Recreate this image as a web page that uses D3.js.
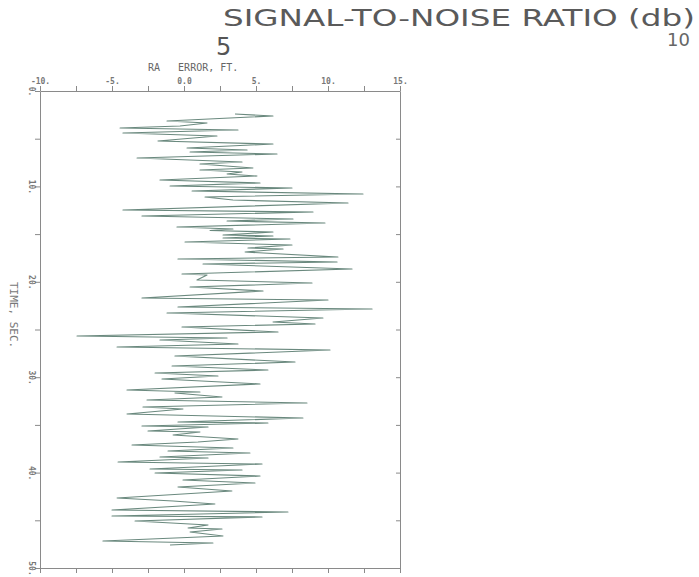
<!DOCTYPE html>
<html>
<head>
<meta charset="utf-8">
<script src="https://cdn.jsdelivr.net/npm/d3@7"></script>
<style>
	body { margin: 0; background: #fff; }
	svg text { font-family: 'DejaVu Sans Mono', monospace; fill: #666; }
	.axis path, .axis line { stroke: #8a8a8a; }
</style>
</head>
<body>
<svg id="main-plot"></svg>
<script>
// time (sec) at each turning point of the trace
var timeSec = [2.41, 2.62, 3.14, 3.35, 3.67, 3.88, 4.09, 4.40, 4.72, 5.24,
	5.56, 5.97, 6.18, 6.39, 6.60, 7.02, 7.44, 7.65, 8.07, 8.28,
	8.49, 8.70, 8.91, 9.33, 9.64, 9.96, 10.17, 10.48, 10.80, 11.11,
	11.43, 11.74, 12.47, 12.68, 13.10, 13.42, 13.63, 13.84, 14.26, 14.47,
	14.62, 14.78, 15.09, 15.20, 15.41, 15.51, 15.83, 16.14, 16.46, 16.56,
	16.88, 17.40, 17.61, 17.92, 18.13, 18.66, 19.18, 19.29, 19.81, 20.13,
	20.55, 20.96, 21.70, 21.91, 22.64, 22.85, 23.27, 23.79, 24.21, 24.42,
	24.74, 25.26, 25.68, 25.89, 26.10, 26.52, 26.83, 27.15, 27.78, 28.41,
	28.83, 29.25, 29.56, 29.87, 30.19, 30.71, 31.34, 31.55, 31.66, 32.08,
	32.39, 32.70, 33.12, 33.33, 33.86, 34.28, 34.70, 34.80, 35.12, 35.22,
	35.64, 35.74, 36.06, 36.48, 36.79, 37.11, 37.42, 37.74, 37.95, 38.36,
	38.47, 38.89, 39.10, 39.62, 39.73, 40.04, 40.36, 40.78, 41.09, 41.51,
	41.93, 42.66, 42.98, 43.29, 43.92, 44.13, 44.55, 44.65, 45.07, 45.49,
	45.81, 45.91, 46.23, 46.65, 47.17, 47.38, 47.59];

// RA error (ft) at the same points
var raError = [3.54, 6.18, -1.18, 1.60, -0.28, -4.44, 3.75, -4.24, 2.29, -1.81,
	6.18, 0.21, 4.38, 0.42, 6.46, -3.26, 4.03, 1.11, 4.79, 1.11,
	4.03, 2.99, 5.07, -1.67, 5.28, -0.97, 7.50, 0.56, 12.43, 1.46,
	3.40, 11.39, -4.24, 8.96, -2.92, 7.57, 2.99, 9.79, -0.49, 3.40,
	1.81, 6.18, 2.71, 6.18, 2.71, 7.36, 0.07, 7.50, 4.44, 6.88,
	4.24, 10.69, -0.42, 10.63, 1.32, 11.67, -0.14, 1.60, 0.90, 8.89,
	0.42, 5.49, -2.92, 10.00, -0.42, 13.06, -1.18, 9.65, 6.18, 9.10,
	-0.14, 6.53, -7.43, 2.99, -1.67, 3.75, -4.65, 10.14, -0.63, 7.71,
	-0.83, 5.83, -2.01, 2.36, -1.53, 5.28, -3.96, 1.11, -0.63, 2.64,
	-2.57, 8.54, -2.85, -0.07, -3.96, 8.26, -0.42, 5.83, -2.92, 1.67,
	-2.50, 1.11, -0.76, 3.75, 0.97, -3.61, 3.40, -1.11, 4.58, -1.67,
	1.67, -4.58, 5.42, -2.36, 4.03, -2.01, 5.28, -0.07, 4.93, -0.42,
	3.33, -4.65, -0.76, 2.15, -5.00, 7.22, -5.00, 5.42, -3.40, 1.67,
	0.28, 2.64, 0.42, 2.71, -5.63, 2.01, -0.97];

var xTicks = [-10, -7.5, -5, -2.5, 0, 2.5, 5, 7.5, 10, 12.5, 15];
var xTickLabels = {'-10': '-10.', '-5': '-5.', '0': '0.0', '5': '5.', '10': '10.', '15': '15.'};
var yTicks = [0, 5, 10, 15, 20, 25, 30, 35, 40, 45, 50];
var yTickLabels = {'0': '0.', '10': '10.', '20': '20.', '30': '30.', '40': '40.', '50': '50.'};

(function () {
	'use strict';

	var width = 699,
		height = 577,
		svg = d3.select('svg#main-plot').attr('width', width).attr('height', height),
		x = d3.scaleLinear().domain([-10, 15]).range([40, 400]),
		y = d3.scaleLinear().domain([0, 50]).range([91, 568]);

	// heading of the neighbouring figure, cut off by the scan
	svg.append('text').attr('x', 223).attr('y', 26)
		.attr('textLength', 472).attr('lengthAdjust', 'spacingAndGlyphs')
		.style('font-family', 'DejaVu Sans').style('font-size', '23px').style('fill', '#5a5a5a')
		.text('SIGNAL-TO-NOISE RATIO (db)');
	svg.append('text').attr('x', 216).attr('y', 55)
		.style('font-family', 'DejaVu Sans').style('font-size', '24px').style('fill', '#555')
		.text('5');
	svg.append('text').attr('x', 667).attr('y', 46)
		.style('font-family', 'DejaVu Sans').style('font-size', '18px').style('fill', '#666')
		.text('10');

	function fmt(labels) {
		return function (d) { return labels[String(d)] || ''; };
	}

	var top = svg.append('g').attr('class', 'axis')
		.attr('transform', 'translate(0,' + y.range()[0] + ')')
		.call(d3.axisTop(x).tickValues(xTicks).tickSize(5).tickSizeOuter(0).tickFormat(fmt(xTickLabels)));
	top.selectAll('text').attr('dy', '0.1em').style('font-size', '8px').style('font-weight', 'bold').style('fill', '#777');

	svg.append('g').attr('class', 'axis')
		.attr('transform', 'translate(0,' + y.range()[1] + ')')
		.call(d3.axisBottom(x).tickValues(xTicks).tickSize(5).tickSizeOuter(0).tickFormat(''));

	var left = svg.append('g').attr('class', 'axis')
		.attr('transform', 'translate(' + x.range()[0] + ',0)')
		.call(d3.axisLeft(y).tickValues(yTicks).tickSize(5).tickSizeOuter(0).tickFormat(fmt(yTickLabels)));
	left.selectAll('.tick text')
		.attr('x', null).attr('dy', null)
		.attr('text-anchor', 'middle')
		.attr('transform', 'translate(-11,0) rotate(90)')
		.style('font-size', '8px').style('font-weight', 'bold').style('fill', '#777');

	svg.append('g').attr('class', 'axis')
		.attr('transform', 'translate(' + x.range()[1] + ',0)')
		.call(d3.axisRight(y).tickValues(yTicks).tickSize(-4).tickSizeOuter(0).tickFormat(''));

	svg.selectAll('.axis .domain').attr('fill', 'none');

	svg.append('text').attr('x', 148).attr('y', 71)
		.style('font-size', '10px').style('fill', '#666').attr('xml:space', 'preserve')
		.text('RA   ERROR, FT.');

	svg.append('text')
		.attr('transform', 'translate(10,282) rotate(90)')
		.style('font-size', '11px').style('fill', '#777')
		.text('TIME, SEC.');

	var line = d3.line()
		.x(function (d) { return x(d.e); })
		.y(function (d) { return y(d.t); });

	var points = timeSec.map(function (t, i) { return {t: t, e: raError[i]}; });

	svg.append('path')
		.datum(points)
		.attr('d', line)
		.attr('fill', 'none')
		.attr('stroke', '#6a897e')
		.attr('stroke-width', 1.1)
		.attr('stroke-linejoin', 'round');
})();
</script>
</body>
</html>
